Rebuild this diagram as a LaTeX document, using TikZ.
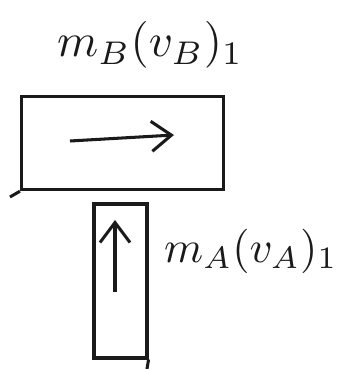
\documentclass[tikz,border=0pt]{standalone}
\usepackage{tikz}
\usetikzlibrary{arrows.meta}
\definecolor{ink}{HTML}{1A1A1A}
\tikzset{
  blk/.style={draw=ink,line width=2.6pt,minimum width=#1,inner sep=0pt},
  mom/.style={-{Straight Barb[length=6mm,width=9mm,line width=2.6pt]},ink,line width=2.6pt},
  lbl/.style={text=ink,inner sep=0pt},
}
\newcommand{\bigmom}[1]{\scalebox{4}{$#1$}}

\begin{document}
\begin{tikzpicture}[x=0.03cm,y=-0.03cm]
\useasboundingbox (0,0) rectangle (347,369);
\node[blk=6.06cm,minimum height=2.8cm] (bB) at (122.5,143) {};
\node[blk=1.59cm,minimum height=4.62cm] (bA) at (120.5,281) {};
\node[lbl,anchor=base west] (mB) at (57,57) {\bigmom{m_B(v_B)_1}};
\node[lbl,anchor=base west] (mA) at (164,262) {\scalebox{3.8}{$m_A(v_A)_1$}};
\coordinate (pB0) at (70,141);
\coordinate (pB1) at (174,135);
\coordinate (pA0) at (115,292);
\coordinate (pA1) at (115,220);
\coordinate (tB) at (10,197);
\coordinate (tA) at (147,369);
\draw[mom] (pB0) -- (pB1);
\draw[mom] (pA0) -- (pA1);
\draw[ink,line width=2.6pt] (bB.south west) -- (tB);
\draw[ink,line width=2.6pt] (bA.south east) -- (tA);
\end{tikzpicture}
\end{document}
